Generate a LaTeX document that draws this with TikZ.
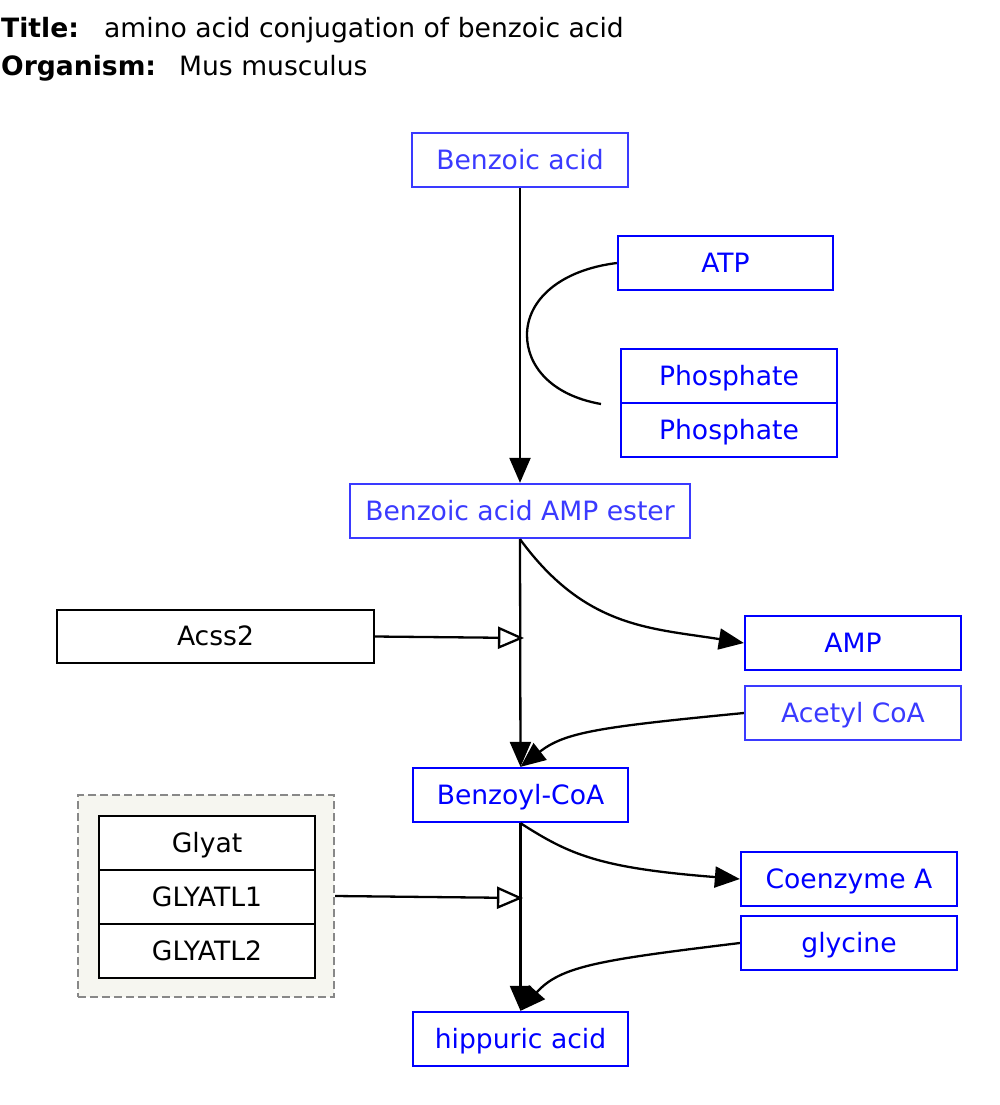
\documentclass[tikz,border=0pt]{standalone}
\usepackage{fontspec}
\setmainfont{DejaVu Sans}
\usetikzlibrary{arrows.meta}
\definecolor{metab}{RGB}{0,0,255}
\definecolor{metablite}{RGB}{58,58,255}
\definecolor{grpfill}{RGB}{246,246,240}
\definecolor{grpline}{RGB}{136,136,136}
\begin{document}
\begin{tikzpicture}[x=0.5pt, y=-0.5pt, line width=1.15pt,
  every node/.style={font=\fontsize{13.3pt}{16pt}\selectfont, inner sep=0pt, text height=11pt, text depth=2pt},
  mbox/.style={draw=metab, text=metab, minimum width=108pt, minimum height=27pt},
  mboxlite/.style={draw=metablite, text=metablite, minimum width=108pt, minimum height=27pt},
  gbox/.style={draw=black, fill=white, minimum width=108pt, minimum height=27pt},
  conv/.style={-{Triangle[length=12.5pt,width=10.5pt]}},
  catal/.style={-{Triangle[open,length=13pt,width=11pt]}}]
\useasboundingbox (0,0) rectangle (1000,1105);
\node[anchor=base west] (ttl) at (0,37) {\textbf{Title:}}; \node[anchor=base west] (ttltxt) at (103,37) {amino acid conjugation of benzoic acid};
\node[anchor=base west] (org) at (0,75) {\textbf{Organism:}}; \node[anchor=base west] (orgtxt) at (178,75) {Mus musculus};

\node[mboxlite] (benz) at (520,160) {Benzoic acid};
\node[mbox, minimum width=107.5pt] (atp) at (725.5,263) {ATP};
\node[mbox] (pi1) at (729,376) {Phosphate};
\node[mbox] (pi2) at (729,430) {Phosphate};
\node[mboxlite, minimum width=170pt] (ester) at (520,511) {Benzoic acid AMP ester};
\node[gbox, minimum width=158.5pt, minimum height=26.5pt] (acss) at (215.5,636.5) {Acss2};
\node[mbox] (amp) at (853,643) {AMP};
\node[mboxlite] (acoa) at (853,713) {Acetyl CoA};
\node[mbox, minimum width=107.5pt] (bcoa) at (520.5,795) {Benzoyl-CoA};
\node[draw=grpline, fill=grpfill, dash pattern=on 4pt off 2pt, minimum width=128pt, minimum height=101pt] (grp) at (206,896) {};
\node[gbox] (glyat) at (207,843) {Glyat};
\node[gbox] (glyatl1) at (207,897) {GLYATL1};
\node[gbox] (glyatl2) at (207,951) {GLYATL2};
\node[mbox] (coa) at (849,879) {Coenzyme A};
\node[mbox] (gly) at (849,943) {glycine};
\node[mbox, minimum width=107.5pt] (hipp) at (520.5,1039) {hippuric acid};

\coordinate (pifree) at (601,404);
\coordinate (r1) at (524,638);
\coordinate (r2) at (523,898);

\draw[conv] (benz.south) -- (ester.north);
\draw (atp.west) .. controls (560,270) and (527,300) .. (527,335) .. controls (527,365) and (550,395) .. (pifree);
\draw[conv] (ester.south) -- (bcoa.north);
\draw[conv] (ester.south) .. controls (585,628) and (650,628) .. (amp.west);
\draw[catal] (acss.east) -- (r1);
\draw[conv] (acoa.west) .. controls (600,727) and (565,732) .. (bcoa.north);
\draw[conv] (bcoa.south) -- (hipp.north);
\draw[conv] (bcoa.south) .. controls (570,855) and (600,868) .. (coa.west);
\draw[catal] (grp.east) -- (r2);
\draw[conv] (gly.west) .. controls (600,960) and (560,966) .. (hipp.north);

\end{tikzpicture}
\end{document}
